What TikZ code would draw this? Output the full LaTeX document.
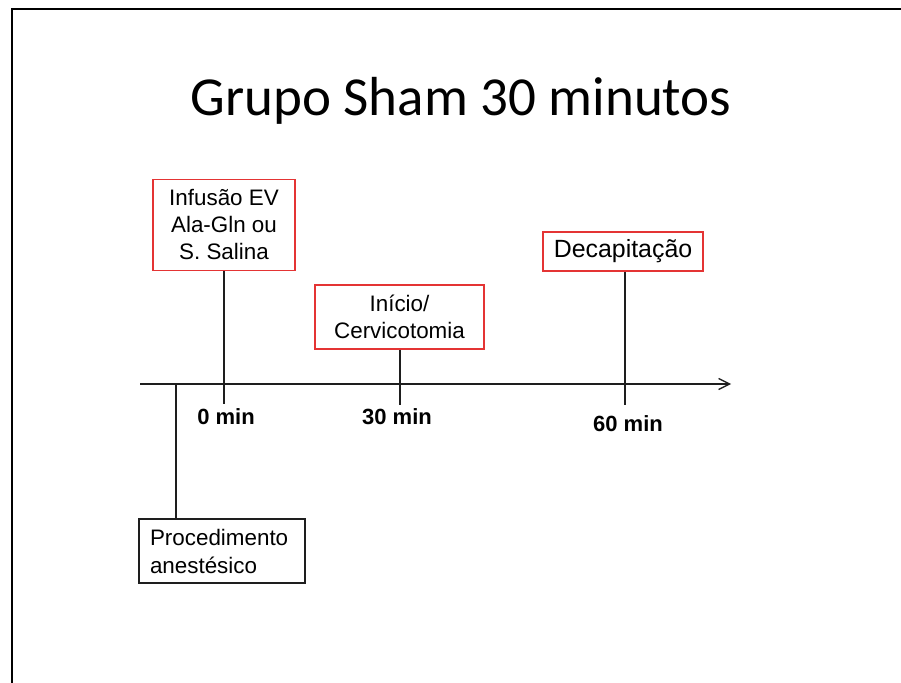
\documentclass[tikz,border=0pt]{standalone}
\usepackage{fontspec}
\setmainfont{Liberation Sans}
\newfontfamily\titlefont{Carlito}
\usetikzlibrary{arrows.meta}
\definecolor{boxred}{RGB}{228,52,52}
\definecolor{linegray}{RGB}{30,30,30}
\tikzset{
  evbox/.style={draw=boxred, line width=1.2pt, fill=white, align=center, inner sep=0pt,
    font=\fontsize{22.4}{27}\selectfont},
  procbox/.style={draw=linegray, line width=1.2pt, fill=white, align=left, inner sep=0pt,
    font=\fontsize{22.4}{28}\selectfont},
  tick/.style={draw=linegray, line width=1.3pt},
  minlabel/.style={font=\fontsize{22}{24}\selectfont\bfseries, inner sep=0pt},
}
\begin{document}
\begin{tikzpicture}[x=1pt, y=-1pt]
\useasboundingbox (0,0) rectangle (901,682);
% slide frame
\draw[line width=2.4pt] (12,690) -- (12,9) -- (905,9);
% title
\node (title) at (461,101) {\titlefont\fontsize{55}{62}\selectfont Grupo Sham 30 minutos};
% axis
\coordinate (axs) at (140,384);
\coordinate (axe) at (731,384);
\draw[tick, -{Straight Barb[length=11pt,width=11pt]}] (axs) -- (axe);
% event boxes
\node[evbox, minimum width=142pt, minimum height=91pt] (inf) at (224,225) {Infusão EV\\Ala-Gln ou\\S. Salina};
\node[evbox, minimum width=169pt, minimum height=64pt] (ini) at (399.5,317) {Início/\\Cervicotomia};
\node[evbox, minimum width=160pt, minimum height=39pt, font=\fontsize{24.9}{28}\selectfont] (dec) at (623,251.5) {Decapitação};
\node[procbox, minimum width=166pt, minimum height=64pt, text width=144pt] (proc) at (222,551) {Procedimento\\anestésico};
% tick ends
\coordinate (t0) at (224,404);
\coordinate (t30) at (400,405);
\coordinate (t60) at (625,405);
\coordinate (p0) at (176,384);
\draw[tick] (inf.south -| t0) -- (t0);
\draw[tick] (ini.south -| t30) -- (t30);
\draw[tick] (dec.south -| t60) -- (t60);
\draw[tick] (p0) -- (proc.north -| p0);
% labels
\node[minlabel] (l0) at (226,417) {0 min};
\node[minlabel] (l30) at (397,417) {30 min};
\node[minlabel] (l60) at (628,424) {60 min};
\end{tikzpicture}
\end{document}
